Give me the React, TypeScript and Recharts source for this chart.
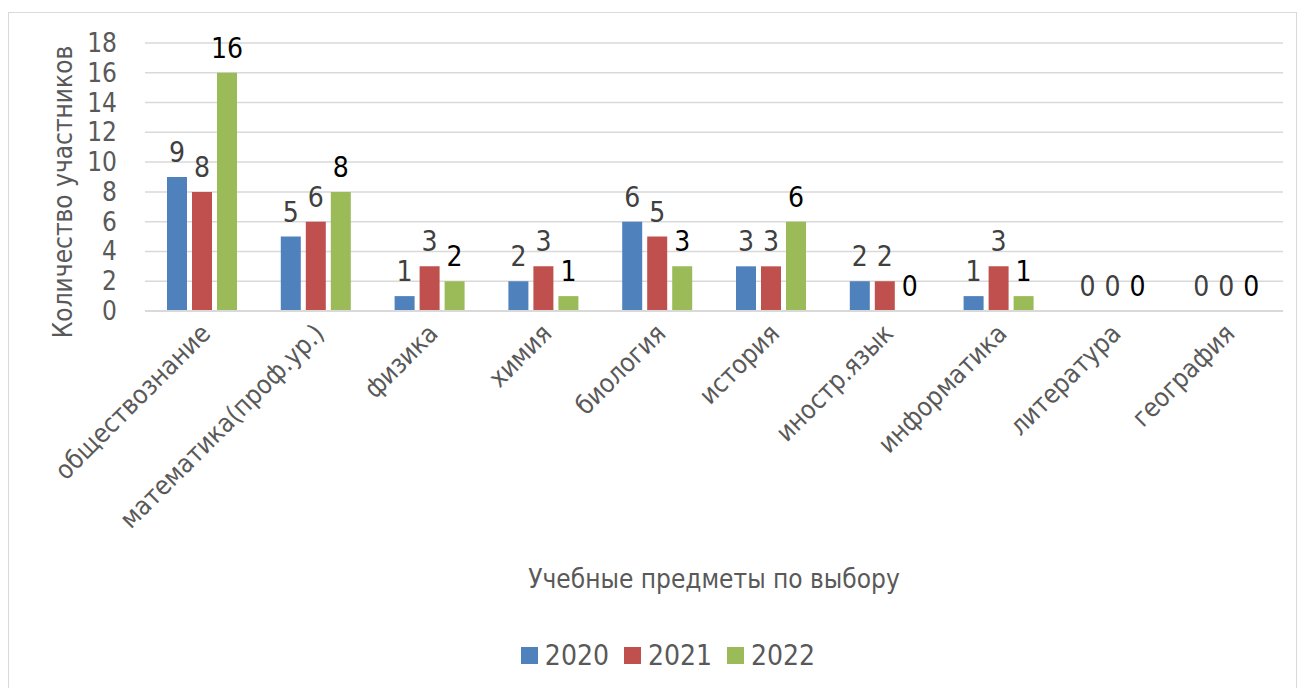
import React from 'react';
import { BarChart, Bar, XAxis, YAxis, CartesianGrid, Legend, LabelList, Label } from 'recharts';

const categories = ['обществознание', 'математика(проф.ур.)', 'физика', 'химия', 'биология', 'история', 'иностр.язык', 'информатика', 'литература', 'география'];
const values2020 = [9, 5, 1, 2, 6, 3, 2, 1, 0, 0];
const values2021 = [8, 6, 3, 3, 5, 3, 2, 3, 0, 0];
const values2022 = [16, 8, 2, 1, 3, 6, 0, 1, 0, 0];
const yTicks = [0, 2, 4, 6, 8, 10, 12, 14, 16, 18];
const seriesNames = ['2020', '2021', '2022'];

const data = categories.map((c, i) => ({ name: c, y2020: values2020[i], y2021: values2021[i], y2022: values2022[i] }));

const FONT = '"Liberation Sans Narrow", "Arial Narrow", "DejaVu Sans Condensed", sans-serif';
const GRAY = '#595959';
const COLORS = ['#4F81BD', '#C0504D', '#9BBB59'];

const XTick = (props: any) => {
  const { x, y, payload } = props;
  return (
    <text x={x + 10} y={y + 16} transform={`rotate(-45 ${x + 10} ${y + 16})`} textAnchor="end" fill={GRAY} fontSize={26} fontFamily={FONT}>
      {payload.value}
    </text>
  );
};

const YTick = (props: any) => {
  const { x, y, payload } = props;
  return (
    <text x={x} y={y} dy={9} textAnchor="end" fill={GRAY} fontSize={26} fontFamily={FONT}>
      {payload.value}
    </text>
  );
};

const LegendContent = () => (
  <div style={{ display: 'flex', justifyContent: 'center', alignItems: 'center', fontFamily: FONT, fontSize: 28, color: GRAY, height: 34, paddingLeft: 44 }}>
    {seriesNames.map((n, i) => (
      <div key={n} style={{ display: 'flex', alignItems: 'center', marginRight: i < 2 ? 15 : 0 }}>
        <span style={{ width: 17, height: 17, background: COLORS[i], display: 'inline-block', marginRight: 7 }} />
        <span>{n}</span>
      </div>
    ))}
  </div>
);

export default function App() {
  return (
    <div style={{ marginTop: 4, width: 1287, height: 676, border: '1px solid #d9d9d9', background: '#fff' }}>
      <BarChart width={1287} height={676} data={data} margin={{ top: 30, right: 13, left: 0, bottom: 17 }} barSize={20} barGap={5}>
        <CartesianGrid vertical={false} stroke="#d9d9d9" strokeWidth={1.5} />
        <XAxis dataKey="name" height={327} interval={0} tickLine={false} axisLine={{ stroke: '#d9d9d9', strokeWidth: 2 }} tick={<XTick />}>
          <Label content={(p: any) => {
            const vb = p.viewBox;
            return <text x={vb.x + vb.width / 2} y={575} textAnchor="middle" fill={GRAY} fontSize={26} fontFamily={FONT}>Учебные предметы по выбору</text>;
          }} />
        </XAxis>
        <YAxis width={136} domain={[0, 18]} ticks={yTicks} interval={0} tickLine={false} axisLine={false} tickMargin={22} tick={<YTick />}>
          <Label content={(p: any) => {
            const vb = p.viewBox;
            const cy = vb.y + vb.height / 2 + 15;
            return <text x={63} y={cy} transform={`rotate(-90 63 ${cy})`} textAnchor="middle" fill={GRAY} fontSize={26} fontFamily={FONT}>Количество участников</text>;
          }} />
        </YAxis>
        <Legend verticalAlign="bottom" content={<LegendContent />} />
        <Bar dataKey="y2020" name="2020" fill={COLORS[0]} minPointSize={0.01} isAnimationActive={false}>
          <LabelList dataKey="y2020" position="top" offset={15} fill="#404040" fontSize={28} fontFamily={FONT} />
        </Bar>
        <Bar dataKey="y2021" name="2021" fill={COLORS[1]} minPointSize={0.01} isAnimationActive={false}>
          <LabelList dataKey="y2021" position="top" offset={15} fill="#404040" fontSize={28} fontFamily={FONT} />
        </Bar>
        <Bar dataKey="y2022" name="2022" fill={COLORS[2]} minPointSize={0.01} isAnimationActive={false}>
          <LabelList dataKey="y2022" position="top" offset={15} fill="#000000" fontSize={28} fontFamily={FONT} />
        </Bar>
      </BarChart>
    </div>
  );
}
